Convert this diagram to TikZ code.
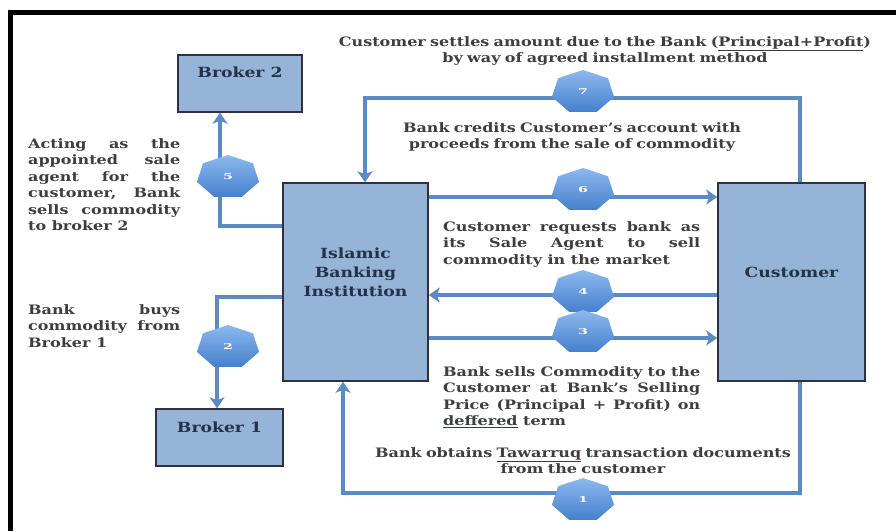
\documentclass[tikz,border=0pt]{standalone}
\usepackage{fontspec}
\setmainfont{DejaVu Serif}[FakeStretch=1.23]
\usetikzlibrary{shapes.geometric,arrows.meta}
\definecolor{boxfill}{RGB}{150,180,215}
\definecolor{boxline}{RGB}{45,50,65}
\definecolor{boxink}{RGB}{35,50,75}
\definecolor{flowblue}{RGB}{92,138,195}
\definecolor{heptlight}{RGB}{140,185,238}
\definecolor{heptdark}{RGB}{70,128,205}
\definecolor{notegray}{RGB}{62,62,62}
\newcommand\spellmark[1]{\rlap{\textcolor{red!75!black}{\underline{\phantom{#1}}}}#1}

\begin{document}
\begin{tikzpicture}[x=1pt, y=-1pt, >={Stealth[length=11pt, width=15pt, inset=3pt]},
	box/.style={rectangle, draw=boxline, line width=1.5pt, fill=boxfill},
	boxtext/.style={font=\fontsize{14}{19}\selectfont\bfseries, text=boxink, align=center},
	flow/.style={draw=flowblue, line width=4pt},
	hept/.style={regular polygon, regular polygon sides=7, minimum size=44pt, inner sep=0pt, xscale=1.45, transform shape, top color=heptlight, bottom color=heptdark, text=white, font=\bfseries\footnotesize},
	note/.style={font=\fontsize{13}{16.5}\selectfont\bfseries, text=notegray, inner sep=0pt}]
				\useasboundingbox (0,0) rectangle (896,531);
				\draw[line width=5pt] (10,531) -- (10,12.5) -- (896,12.5);
				
				\node[box, minimum width=124pt, minimum height=57pt, label={[boxtext, yshift=11.5pt]center:Broker 2}] (broker2) at (240,83.5) {};
				\node[box, minimum width=145pt, minimum height=198pt, label={[boxtext, yshift=10pt]center:{Islamic\\Banking\\Institution}}] (ibi) at (355.5,282) {};
				\node[box, minimum width=147pt, minimum height=198pt, label={[boxtext, yshift=10pt]center:Customer}] (cust) at (791.5,282) {};
				\node[box, minimum width=127pt, minimum height=57pt, label={[boxtext, yshift=10.5pt]center:Broker 1}] (broker1) at (219.5,437.5) {};
				
				\draw[flow, ->] (cust.north -| 800,0) |- (365,98) -- (ibi.north -| 365,0);
				\draw[flow, ->] (ibi.east |- 0,197) -- (cust.west |- 0,197);
				\draw[flow, ->] (cust.west |- 0,295) -- (ibi.east |- 0,295);
				\draw[flow, ->] (ibi.east |- 0,338) -- (cust.west |- 0,338);
				\draw[flow, ->] (cust.south -| 800,0) |- (343,493) -- (ibi.south -| 343,0);
				\draw[flow, ->] (ibi.west |- 0,226) -| (broker2.south -| 220,0);
				\draw[flow, ->] (ibi.west |- 0,297) -| (broker1.north -| 217,0);
				
				\node[hept] (h7) at (583,92) {7};
				\node[hept] (h6) at (583,190) {6};
				\node[hept] (h4) at (583,292) {4};
				\node[hept] (h3) at (583,332) {3};
				\node[hept] (h1) at (583,500) {1};
				\node[hept] (h5) at (228,177) {5};
				\node[hept] (h2) at (228,347) {2};
				
				\node[note, text width=560pt, align=center, anchor=base] (settle) at (605,46) {Customer settles amount due to the Bank (\underline{Principal+Profit})\\by way of agreed installment method};
				\node[note, text width=360pt, align=center, anchor=base] (credit) at (572,132) {Bank credits Customer's account with\\proceeds from the sale of commodity};
				\node[note, text width=257pt, align=justify, anchor=base west] (request) at (443,231) {Customer requests bank as\linebreak its Sale Agent to sell\linebreak commodity in the market};
				\node[note, text width=257pt, align=justify, anchor=base west] (sell) at (443,376) {Bank sells Commodity to the\linebreak Customer at Bank's Selling\linebreak Price (Principal + Profit) on\linebreak \spellmark{deffered} term};
				\node[note, text width=480pt, align=center, anchor=base] (obtain) at (583,457) {Bank obtains \spellmark{Tawarruq} transaction documents\\from the customer};
				\node[note, text width=152pt, align=justify, anchor=base west] (agent) at (28,148) {Acting as the\linebreak appointed sale\linebreak agent for the\linebreak customer, Bank\linebreak sells commodity\linebreak to broker 2};
				\node[note, text width=152pt, align=justify, anchor=base west] (buy) at (28,314) {Bank buys\linebreak commodity from\linebreak Broker 1};
\end{tikzpicture}
\end{document}
